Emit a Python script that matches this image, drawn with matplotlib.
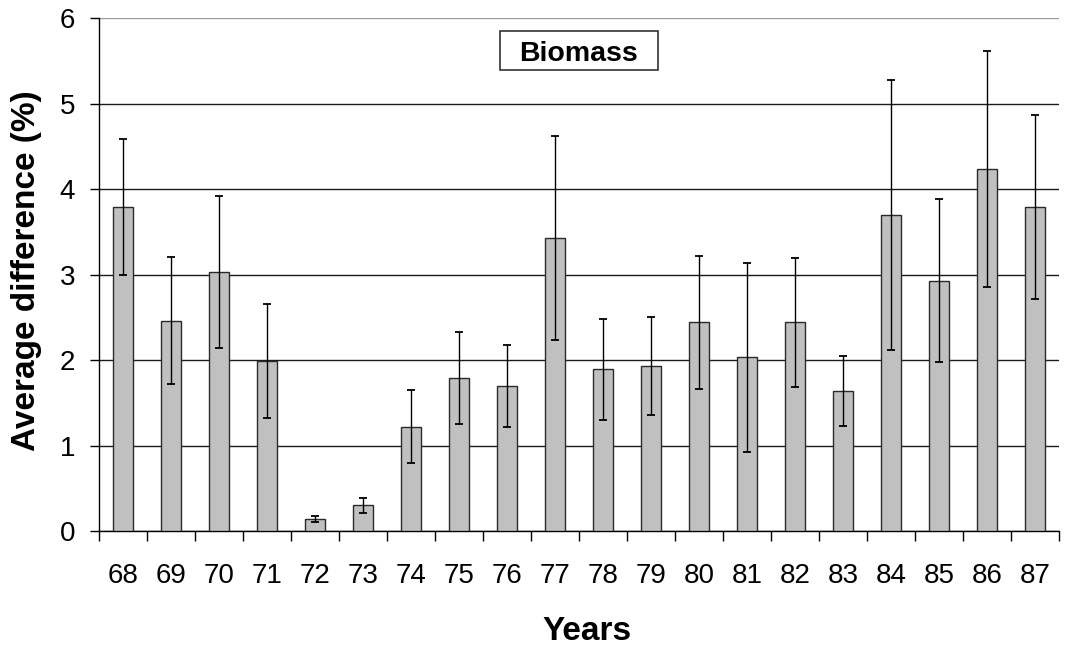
import matplotlib.pyplot as plt
from matplotlib.patches import Rectangle
import numpy as np

plt.rcParams['font.family'] = ['Liberation Sans', 'DejaVu Sans']

# Average biomass difference per year, with error bar half-widths
years = ['68', '69', '70', '71', '72', '73', '74', '75', '76', '77',
         '78', '79', '80', '81', '82', '83', '84', '85', '86', '87']
avg_diff = [3.79, 2.46, 3.03, 1.99, 0.14, 0.30, 1.22, 1.79, 1.70, 3.43,
            1.89, 1.93, 2.44, 2.03, 2.44, 1.64, 3.70, 2.93, 4.23, 3.79]
err = [0.79, 0.74, 0.89, 0.67, 0.04, 0.09, 0.43, 0.54, 0.48, 1.19,
       0.59, 0.57, 0.78, 1.11, 0.75, 0.41, 1.58, 0.95, 1.38, 1.08]

fig = plt.figure(figsize=(10.7, 6.46), dpi=100)
ax = fig.add_axes([0.0925, 0.178, 0.8972, 0.794])

x = np.arange(len(years))
ax.bar(x, avg_diff, width=0.4, color='#c0c0c0', edgecolor='#2a2a2a',
       linewidth=1.0, zorder=3)
ax.errorbar(x, avg_diff, yerr=err, fmt='none', ecolor='black',
            elinewidth=1.0, capsize=2.6, capthick=1.3, zorder=4)

ax.set_xlim(-0.5, len(years) - 0.5)
ax.set_ylim(0, 6)
ax.set_yticks(range(0, 7))
ax.yaxis.grid(True, color='#1a1a1a', linewidth=1.0, zorder=0)
ax.get_ygridlines()[-1].set_color('#9a9a9a')
ax.set_axisbelow(True)

ax.set_xticks(x)
ax.set_xticklabels(years, fontsize=20)
ax.set_xticks(np.arange(-0.5, len(years)), minor=True)
ax.tick_params(axis='x', which='major', length=0, pad=23)
ax.tick_params(axis='x', which='minor', length=7, width=1.0, direction='out')
ax.tick_params(axis='y', length=6.5, width=1.0, labelsize=20, pad=10.8)

for side in ['top', 'right']:
    ax.spines[side].set_visible(False)
ax.spines['left'].set_linewidth(1.0)
ax.spines['bottom'].set_linewidth(1.0)

ax.set_xlabel('Years', fontsize=24, fontweight='bold')
ax.xaxis.set_label_coords(0.508, -0.166)
ax.set_ylabel('Average difference (%)', fontsize=24, fontweight='bold')
ax.yaxis.set_label_coords(-0.0594, 0.508)

# framed title inside the plot area
ax.add_patch(Rectangle((0.4177, 0.8986), 0.1646, 0.0761, transform=ax.transAxes,
                       facecolor='white', edgecolor='#333333', linewidth=1.2,
                       zorder=5, clip_on=False))
ax.text(0.5, 0.9162, 'Biomass', transform=ax.transAxes, ha='center',
        va='baseline', fontsize=20.5, fontweight='bold', zorder=6)

fig.savefig('out.png', dpi=100)
